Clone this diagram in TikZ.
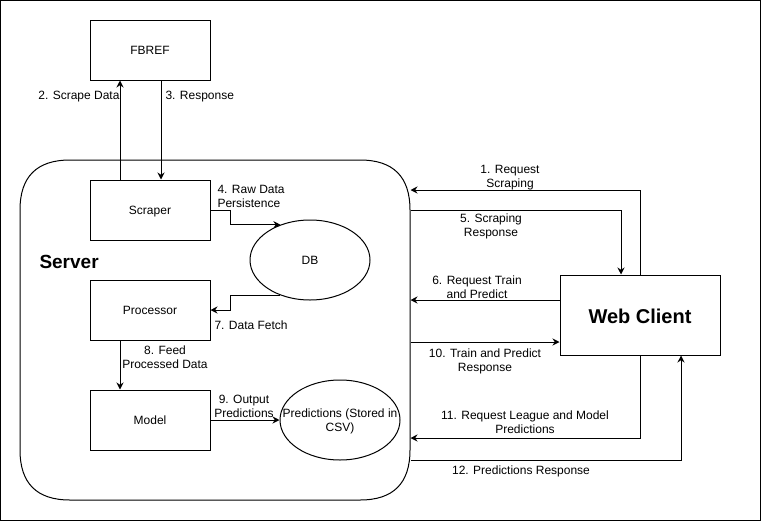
\documentclass[tikz,border=0pt]{standalone}
\usepackage{fontspec}
\setmainfont{Liberation Sans}
\usetikzlibrary{shapes.geometric,arrows.meta,calc}
\begin{document}
\begin{tikzpicture}[x=1pt,y=-1pt,line width=1pt,
  lbl/.style={font=\fontsize{12}{14.5}\selectfont, inner sep=0pt, align=center, yshift=-1.5pt},
  box/.style={draw, minimum width=120pt, minimum height=60pt, inner sep=0pt, text height=11pt, text depth=2.5pt, font=\fontsize{12}{14.5}\selectfont},
  ell/.style={draw, ellipse, minimum width=120pt, minimum height=80pt, inner sep=0pt, text height=11pt, text depth=2.5pt, font=\fontsize{12}{14.5}\selectfont},
  arr/.style={-{Stealth[length=7pt,width=7pt]}}]
\useasboundingbox (0,0) rectangle (762,522);
\draw (0.5,0.5) rectangle (760.5,520.5);

% server container
\node[minimum width=390pt, minimum height=340pt, inner sep=0pt] (server) at (215,330) {};
\draw (70,160) -- (360,160) .. controls (393.3,160) and (410,176.7) .. (410,210)
  -- (410,450) .. controls (410,483.3) and (393.3,500) .. (360,500)
  -- (70,500) .. controls (36.7,500) and (20,483.3) .. (20,450)
  -- (20,210) .. controls (20,176.7) and (36.7,160) .. (70,160) -- cycle;
\node[anchor=base west, inner sep=0pt, font=\fontsize{19}{22}\selectfont\bfseries] (serverlbl) at (39,268.5) {Server};

% nodes
\node[box] (fbref) at (150,50) {FBREF};
\node[box] (scraper) at (150,210) {Scraper};
\node[box] (proc) at (150,310) {Processor};
\node[box] (model) at (150,420) {Model};
\node[ell] (db) at (310,260) {DB};
\node[draw, ellipse, minimum width=120pt, minimum height=80pt, inner sep=0pt] (pred) at (340,420) {};
\node[lbl] (predlbl) at (pred.center) {Predictions (Stored in\\CSV)};
\node[draw, minimum width=160pt, minimum height=80pt, inner sep=0pt, text height=17pt, text depth=0pt, font=\fontsize{20}{24}\selectfont\bfseries] (web) at (640,315) {Web Client};

% left connectors
\draw[arr] ([xshift=-30pt]scraper.north) -- ([xshift=-30pt]fbref.south);
\node[lbl, anchor=east] (l2) at (120,95) {2. Scrape Data};
\draw[arr] ([xshift=11pt]fbref.south) -- ([xshift=11pt]scraper.north);
\node[lbl, anchor=west] (l3) at (165,95) {3. Response};

\draw[arr] (scraper.east) -- ++(20,0) |- (db.130);
\node[lbl, anchor=west, align=left] (l4) at (217,195) {4. Raw Data\\Persistence};

\draw[arr] (db.230) -| ([xshift=20pt]proc.east) -- (proc.east);
\node[lbl, anchor=west] (l7) at (214,324) {7. Data Fetch};

\draw[arr] ([xshift=-30pt]proc.south) -- ([xshift=-30pt]model.north);
\node[lbl] (l8) at (165,355.5) {8. Feed\\Processed Data};

\draw[arr] (model.east) -- (pred.west);
\node[lbl] (l9) at (244,405) {9. Output\\Predictions};

% right connectors
\draw[arr] (web.north) |- ([yshift=140pt]server.east);
\node[lbl] (l1) at (510,176) {1. Request\\Scraping};

\draw[arr] ([yshift=120pt]server.east) -| ([xshift=-19pt]web.north);
\node[lbl] (l5) at (491,225) {5. Scraping\\Response};

\draw[arr] ([yshift=15pt]web.west) -- ([yshift=30pt]server.east);
\node[lbl] (l6) at (477,285.5) {6. Request Train\\and Predict};

\draw[arr] ([yshift=-12pt]server.east) -- ([yshift=-27pt]web.west);
\node[lbl] (l10) at (485,360) {10. Train and Predict\\Response};

\draw[arr] (web.south) |- ([yshift=-108pt]server.east);
\node[lbl] (l11) at (525,420.5) {11. Request League and Model\\Predictions};

\draw[arr] ([yshift=-130pt]server.east) -| ([xshift=41pt]web.south);
\node[lbl] (l12) at (521,470) {12. Predictions Response};
\end{tikzpicture}
\end{document}
